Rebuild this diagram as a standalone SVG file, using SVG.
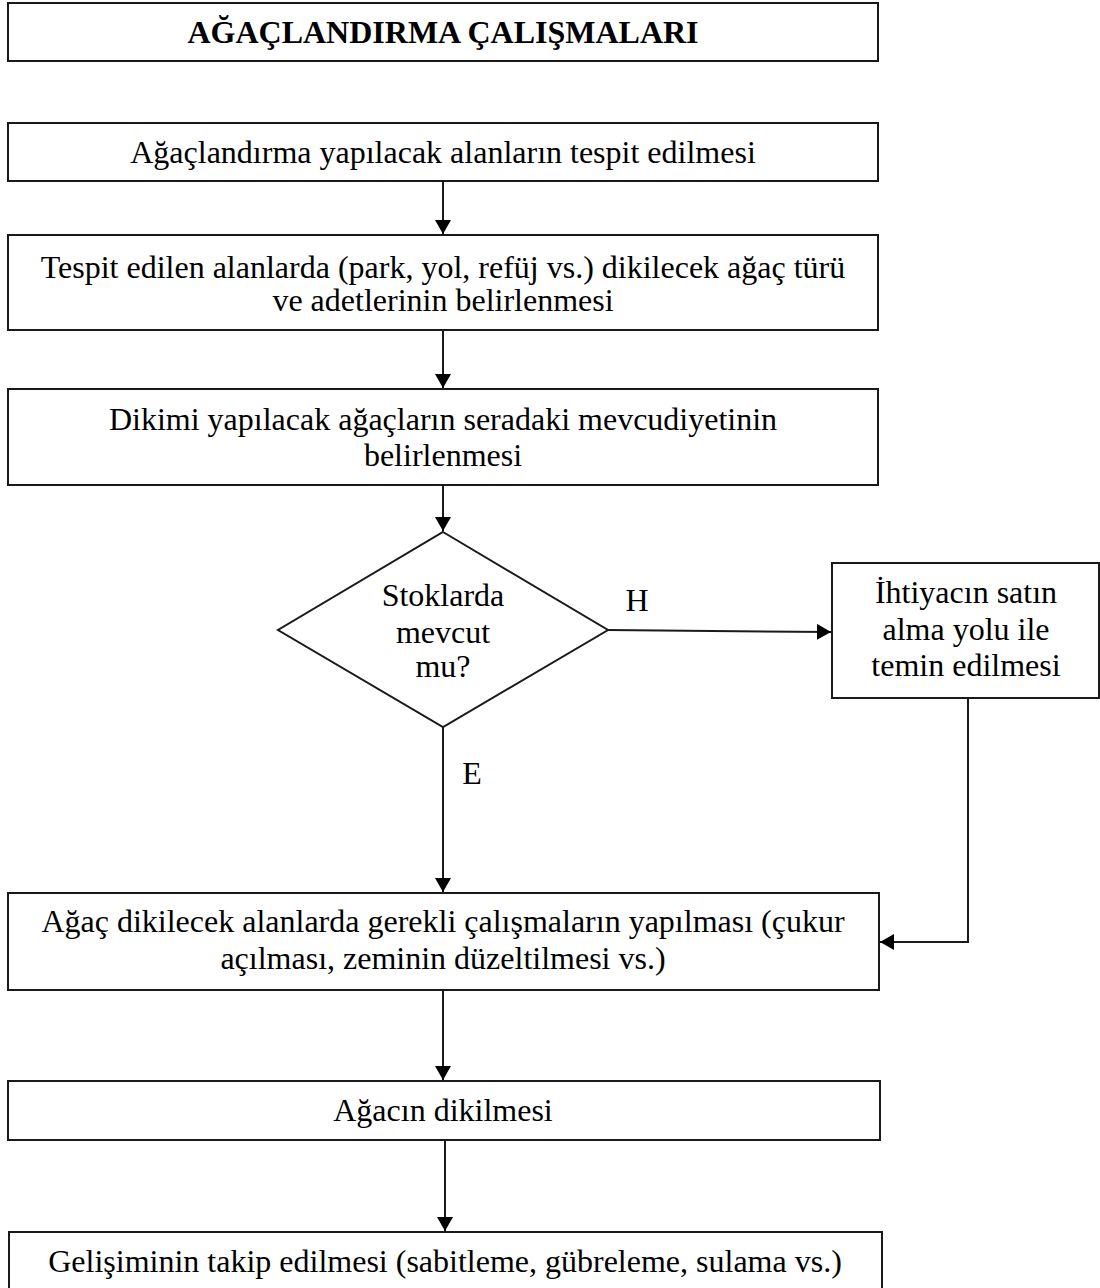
<svg xmlns="http://www.w3.org/2000/svg" width="1100" height="1288" viewBox="0 0 1100 1288">
  <style>
    .box { fill: #fff; stroke: #1a1a1a; stroke-width: 2; }
    .t { font-family: "Liberation Serif", "Times New Roman", serif; font-size: 32px; fill: #000; text-anchor: middle; }
    .title { font-weight: bold; font-size: 32px; }
    .wire { fill: none; stroke: #1a1a1a; stroke-width: 2; }
  </style>
  <defs>
    <marker id="arrow" viewBox="0 0 14 16" refX="14" refY="8" markerWidth="14" markerHeight="16" markerUnits="userSpaceOnUse" orient="auto">
      <path d="M0,0 L14,8 L0,16 Z" fill="#000"/>
    </marker>
  </defs>

  <g id="title">
    <rect class="box" x="8" y="3" width="870" height="58"/>
    <text class="t title" x="443" y="43">AĞAÇLANDIRMA ÇALIŞMALARI</text>
  </g>

  <g id="step1">
    <rect class="box" x="8" y="123" width="870" height="58"/>
    <text class="t" x="443" y="163">Ağaçlandırma yapılacak alanların tespit edilmesi</text>
  </g>

  <g id="step2">
    <rect class="box" x="8" y="235" width="870" height="95"/>
    <text class="t" x="443" y="278">Tespit edilen alanlarda (park, yol, refüj vs.) dikilecek ağaç türü</text>
    <text class="t" x="443" y="311">ve adetlerinin belirlenmesi</text>
  </g>

  <g id="step3">
    <rect class="box" x="8" y="389" width="870" height="96"/>
    <text class="t" x="443" y="430">Dikimi yapılacak ağaçların seradaki mevcudiyetinin</text>
    <text class="t" x="443" y="466">belirlenmesi</text>
  </g>

  <g id="decision">
    <polygon class="box" points="443,532 608,630 443,727 278,630"/>
    <text class="t" x="443" y="606">Stoklarda</text>
    <text class="t" x="443" y="643">mevcut</text>
    <text class="t" x="443" y="677">mu?</text>
  </g>

  <g id="purchase">
    <rect class="box" x="832" y="563" width="267" height="135"/>
    <text class="t" x="966" y="603">İhtiyacın satın</text>
    <text class="t" x="966" y="640">alma yolu ile</text>
    <text class="t" x="966" y="676">temin edilmesi</text>
  </g>

  <g id="step4">
    <rect class="box" x="8" y="893" width="871" height="97"/>
    <text class="t" x="443" y="932">Ağaç dikilecek alanlarda gerekli çalışmaların yapılması (çukur</text>
    <text class="t" x="443" y="969">açılması, zeminin düzeltilmesi vs.)</text>
  </g>

  <g id="step5">
    <rect class="box" x="8" y="1081" width="872" height="59"/>
    <text class="t" x="443" y="1121">Ağacın dikilmesi</text>
  </g>

  <g id="step6">
    <rect class="box" x="9" y="1232" width="873" height="60"/>
    <text class="t" x="445" y="1272">Gelişiminin takip edilmesi (sabitleme, gübreleme, sulama vs.)</text>
  </g>

  <g id="connectors">
    <line class="wire" x1="443" y1="181" x2="443" y2="234" marker-end="url(#arrow)"/>
    <line class="wire" x1="443" y1="330" x2="443" y2="388" marker-end="url(#arrow)"/>
    <line class="wire" x1="443" y1="485" x2="443" y2="531" marker-end="url(#arrow)"/>
    <line class="wire" x1="608" y1="630" x2="831" y2="632" marker-end="url(#arrow)"/>
    <line class="wire" x1="443" y1="727" x2="443" y2="892" marker-end="url(#arrow)"/>
    <polyline class="wire" points="968,698 968,942 880,942" marker-end="url(#arrow)"/>
    <line class="wire" x1="443" y1="990" x2="443" y2="1080" marker-end="url(#arrow)"/>
    <line class="wire" x1="445" y1="1140" x2="445" y2="1231" marker-end="url(#arrow)"/>
    <text class="t" x="637" y="611">H</text>
    <text class="t" x="472" y="784">E</text>
  </g>
</svg>
